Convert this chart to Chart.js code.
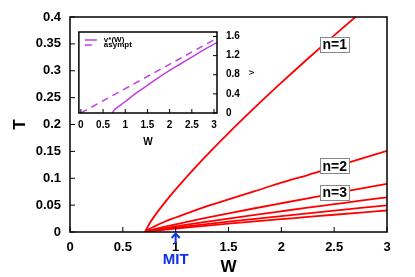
<!DOCTYPE html>
<html>
<head>
<meta charset="utf-8">
<script src="https://cdn.jsdelivr.net/npm/chart.js@4.4.0/dist/chart.umd.min.js"></script>
<style>
  html, body { margin: 0; padding: 0; background: #fff; }
  #wrap { position: relative; width: 415px; height: 277px; }
  #mainChart { position: absolute; left: 0; top: 0; }
  #insetChart { position: absolute; left: 72px; top: 17px; }
</style>
</head>
<body>
<div id="wrap">
  <canvas id="mainChart" width="415" height="277"></canvas>
  <canvas id="insetChart" width="190" height="132"></canvas>
</div>
<script>
// Dane głównego wykresu (T w funkcji W)
const wValues = [0.71, 0.75, 0.8, 0.9, 1.0, 1.25, 1.5, 1.75, 2.0, 2.25, 2.5, 2.75, 3.0];
const tN1 = [0, 0.015, 0.0297, 0.0556, 0.0793, 0.1337, 0.184, 0.2318, 0.2778, 0.3224, 0.3658, 0.4082, 0.4499];
const tN2 = [0, 0.0056, 0.0105, 0.0195, 0.027, 0.045, 0.0607, 0.076, 0.092, 0.106, 0.121, 0.136, 0.151];
const tN3 = [0, 0.0029, 0.0053, 0.0099, 0.0143, 0.0247, 0.0346, 0.0442, 0.0535, 0.0627, 0.0718, 0.0807, 0.0895];
const tN4 = [0, 0.0021, 0.0038, 0.0072, 0.0103, 0.0178, 0.025, 0.0319, 0.0386, 0.0452, 0.0517, 0.0582, 0.0645];
const tN5 = [0, 0.0016, 0.003, 0.0055, 0.0079, 0.0137, 0.0192, 0.0245, 0.0297, 0.0348, 0.0398, 0.0447, 0.0496];
const tN6 = [0, 0.0013, 0.0024, 0.0044, 0.0064, 0.011, 0.0155, 0.0198, 0.0239, 0.028, 0.0321, 0.0361, 0.04];
const seriesT = [tN1, tN2, tN3, tN4, tN5, tN6];

const xTicks = [0, 0.5, 1, 1.5, 2, 2.5, 3];
const xTickLabels = ['0', '0.5', '1', '1.5', '2', '2.5', '3'];
const yTicks = [0, 0.05, 0.1, 0.15, 0.2, 0.25, 0.3, 0.35, 0.4];
const yTickLabels = ['0', '0.05', '0.1', '0.15', '0.2', '0.25', '0.3', '0.35', '0.4'];

// Podpisy krzywych i strzałka MIT
const curveLabels = ['n=1', 'n=2', 'n=3'];
const curveLabelW = [2.505, 2.505, 2.505];
const curveLabelT = [0.349, 0.123, 0.0735];
const mitW = 1.0;

// Dane wstawki (v w funkcji W)
const vStarW = [0.71, 0.75, 0.8, 0.9, 1.0, 1.25, 1.5, 1.75, 2.0, 2.25, 2.5, 2.75, 3.0, 3.06];
const vStar = [0, 0.06, 0.1, 0.17, 0.24, 0.42, 0.58, 0.74, 0.89, 1.03, 1.17, 1.31, 1.44, 1.47];
const asymptW = [0, 3.06];
const asymptV = [0, 1.56];
const insetXTicks = [0, 0.5, 1, 1.5, 2, 2.5, 3];
const insetXTickLabels = ['0', '0.5', '1', '1.5', '2', '2.5', '3'];
const insetYTicks = [0, 0.4, 0.8, 1.2, 1.6];
const insetYTickLabels = ['0', '0.4', '0.8', '1.2', '1.6'];

Chart.defaults.font.family = "'Liberation Sans', Arial, sans-serif";
Chart.defaults.color = '#000';

const FONT = "'Liberation Sans', Arial, sans-serif";

// Ramka i znaczniki skierowane do środka
const frameTicksPlugin = {
    id: 'frameTicks',
    afterDatasetsDraw(chart, args, opts) {
        const { ctx, chartArea: a, scales } = chart;
        ctx.save();
        ctx.strokeStyle = '#000';
        ctx.lineWidth = 1;
        scales.x.ticks.forEach(t => {
            const px = scales.x.getPixelForValue(t.value);
            ctx.beginPath();
            ctx.moveTo(px, a.bottom);
            ctx.lineTo(px, a.bottom - opts.len);
            ctx.stroke();
        });
        const ys = scales.y;
        const onRight = ys.position === 'right';
        ys.ticks.forEach(t => {
            const py = ys.getPixelForValue(t.value);
            const x0 = onRight ? a.right : a.left;
            ctx.beginPath();
            ctx.moveTo(x0, py);
            ctx.lineTo(x0 + (onRight ? -opts.len : opts.len), py);
            ctx.stroke();
        });
        ctx.lineWidth = 1.5;
        ctx.strokeRect(a.left, a.top, a.right - a.left, a.bottom - a.top);
        ctx.restore();
    }
};

// Podpisy n=..., strzałka i napis MIT
const mainNotesPlugin = {
    id: 'mainNotes',
    afterDraw(chart) {
        const { ctx, scales } = chart;
        ctx.save();
        ctx.font = 'bold 14px ' + FONT;
        ctx.textAlign = 'center';
        ctx.textBaseline = 'middle';
        curveLabels.forEach((txt, i) => {
            const cx = scales.x.getPixelForValue(curveLabelW[i]);
            const cy = scales.y.getPixelForValue(curveLabelT[i]);
            const w = ctx.measureText(txt).width + 4;
            const h = 15;
            ctx.fillStyle = '#fff';
            ctx.fillRect(cx - w / 2, cy - h / 2, w, h);
            ctx.strokeStyle = '#888';
            ctx.lineWidth = 1;
            ctx.strokeRect(Math.round(cx - w / 2) + 0.5, Math.round(cy - h / 2) + 0.5, Math.round(w), h);
            ctx.fillStyle = '#000';
            ctx.fillText(txt, cx, cy + 1);
        });

        const mx = scales.x.getPixelForValue(mitW);
        const y0 = scales.y.bottom + 1;
        ctx.strokeStyle = '#1030f0';
        ctx.fillStyle = '#1030f0';
        ctx.lineWidth = 2;
        ctx.beginPath();
        ctx.moveTo(mx, y0 + 2);
        ctx.lineTo(mx, y0 + 10);
        ctx.stroke();
        ctx.beginPath();
        ctx.moveTo(mx - 4, y0 + 5);
        ctx.lineTo(mx, y0 + 0.5);
        ctx.lineTo(mx + 4, y0 + 5);
        ctx.stroke();
        ctx.font = 'bold 15px ' + FONT;
        ctx.fillText('MIT', mx, y0 + 27);
        ctx.restore();
    }
};

// Legenda wstawki i tytuł osi v
const insetNotesPlugin = {
    id: 'insetNotes',
    afterDraw(chart) {
        const { ctx, chartArea: a, scales } = chart;
        const ds = chart.data.datasets;
        ctx.save();
        ctx.font = 'bold 8px ' + FONT;
        ctx.textAlign = 'left';
        ctx.textBaseline = 'middle';
        ds.forEach((d, i) => {
            const ly = a.top + 8 + i * 5;
            ctx.strokeStyle = d.borderColor;
            ctx.lineWidth = 1.5;
            ctx.setLineDash(d.borderDash || []);
            ctx.beginPath();
            ctx.moveTo(a.left + 6, ly);
            ctx.lineTo(a.left + 18, ly);
            ctx.stroke();
            ctx.setLineDash([]);
            ctx.fillStyle = '#000';
            ctx.fillText(d.label, a.left + 25, ly);
        });
        const ys = scales.y;
        ctx.translate(ys.right - 10, (a.top + a.bottom) / 2);
        ctx.rotate(-Math.PI / 2);
        ctx.textAlign = 'center';
        ctx.font = '9px ' + FONT;
        ctx.fillText('v', 0, 0);
        ctx.restore();
    }
};

function buildMainChart() {
    const ctx = document.getElementById('mainChart').getContext('2d');
    const datasets = seriesT.map((arr, k) => ({
        label: 'n=' + (k + 1),
        data: wValues.map((w, i) => ({ x: w, y: arr[i] })),
        borderColor: '#ff0000',
        borderWidth: 1.8,
        pointRadius: 0,
        fill: false,
        cubicInterpolationMode: 'monotone'
    }));

    return new Chart(ctx, {
        type: 'line',
        data: { datasets: datasets },
        options: {
            responsive: false,
            animation: false,
            devicePixelRatio: 1,
            layout: { padding: { left: 0, top: 17, right: 28, bottom: 0 } },
            plugins: {
                legend: { display: false },
                tooltip: { enabled: false },
                frameTicks: { len: 5 }
            },
            scales: {
                x: {
                    type: 'linear',
                    min: 0,
                    max: 3,
                    afterBuildTicks: s => { s.ticks = xTicks.map(v => ({ value: v })); },
                    afterFit: s => { s.height = 45; },
                    ticks: {
                        callback: (v, i) => xTickLabels[i],
                        font: { size: 13, weight: 'bold' },
                        color: '#000',
                        padding: 8,
                        maxRotation: 0,
                        autoSkip: false
                    },
                    grid: { display: false, drawTicks: false },
                    border: { display: false },
                    title: {
                        display: true,
                        text: 'W',
                        color: '#000',
                        font: { size: 17, weight: 'bold', lineHeight: 1 },
                        padding: { top: 0, bottom: 1 }
                    }
                },
                y: {
                    type: 'linear',
                    min: 0,
                    max: 0.4,
                    afterBuildTicks: s => { s.ticks = yTicks.map(v => ({ value: v })); },
                    afterFit: s => { s.width = 70; },
                    ticks: {
                        callback: (v, i) => yTickLabels[i],
                        font: { size: 13, weight: 'bold' },
                        color: '#000',
                        padding: 9,
                        autoSkip: false
                    },
                    grid: { display: false, drawTicks: false },
                    border: { display: false },
                    title: {
                        display: true,
                        text: 'T',
                        color: '#000',
                        font: { size: 17, weight: 'bold', lineHeight: 1 },
                        padding: { top: 12, bottom: 0 }
                    }
                }
            }
        },
        plugins: [frameTicksPlugin, mainNotesPlugin]
    });
}

function buildInsetChart() {
    const ctx = document.getElementById('insetChart').getContext('2d');
    return new Chart(ctx, {
        type: 'line',
        data: {
            datasets: [
                {
                    label: 'v*(W)',
                    data: vStarW.map((w, i) => ({ x: w, y: vStar[i] })),
                    borderColor: '#c040e0',
                    borderWidth: 1.5,
                    pointRadius: 0,
                    fill: false,
                    cubicInterpolationMode: 'monotone'
                },
                {
                    label: 'asympt',
                    data: asymptW.map((w, i) => ({ x: w, y: asymptV[i] })),
                    borderColor: '#c040e0',
                    borderWidth: 1.5,
                    borderDash: [7, 5],
                    pointRadius: 0,
                    fill: false
                }
            ]
        },
        options: {
            responsive: false,
            animation: false,
            devicePixelRatio: 1,
            layout: { padding: { left: 6, top: 6, right: 0, bottom: 0 } },
            plugins: {
                legend: { display: false },
                tooltip: { enabled: false },
                frameTicks: { len: 4 }
            },
            scales: {
                x: {
                    type: 'linear',
                    min: -0.045,
                    max: 3.067,
                    afterBuildTicks: s => { s.ticks = insetXTicks.map(v => ({ value: v })); },
                    afterFit: s => { s.height = 36; },
                    ticks: {
                        callback: (v, i) => insetXTickLabels[i],
                        font: { size: 10, weight: 'bold' },
                        color: '#000',
                        padding: 6,
                        maxRotation: 0,
                        autoSkip: false
                    },
                    grid: { display: false, drawTicks: false },
                    border: { display: false },
                    title: {
                        display: true,
                        text: 'W',
                        color: '#000',
                        font: { size: 10, weight: 'bold', lineHeight: 1 },
                        padding: { top: 0, bottom: 2 }
                    }
                },
                y: {
                    type: 'linear',
                    position: 'right',
                    min: 0,
                    max: 1.694,
                    afterBuildTicks: s => { s.ticks = insetYTicks.map(v => ({ value: v })); },
                    afterFit: s => { s.width = 45; },
                    ticks: {
                        callback: (v, i) => insetYTickLabels[i],
                        font: { size: 10, weight: 'bold' },
                        color: '#000',
                        padding: 9,
                        autoSkip: false
                    },
                    grid: { display: false, drawTicks: false },
                    border: { display: false }
                }
            }
        },
        plugins: [frameTicksPlugin, insetNotesPlugin]
    });
}

buildMainChart();
buildInsetChart();
</script>
</body>
</html>
